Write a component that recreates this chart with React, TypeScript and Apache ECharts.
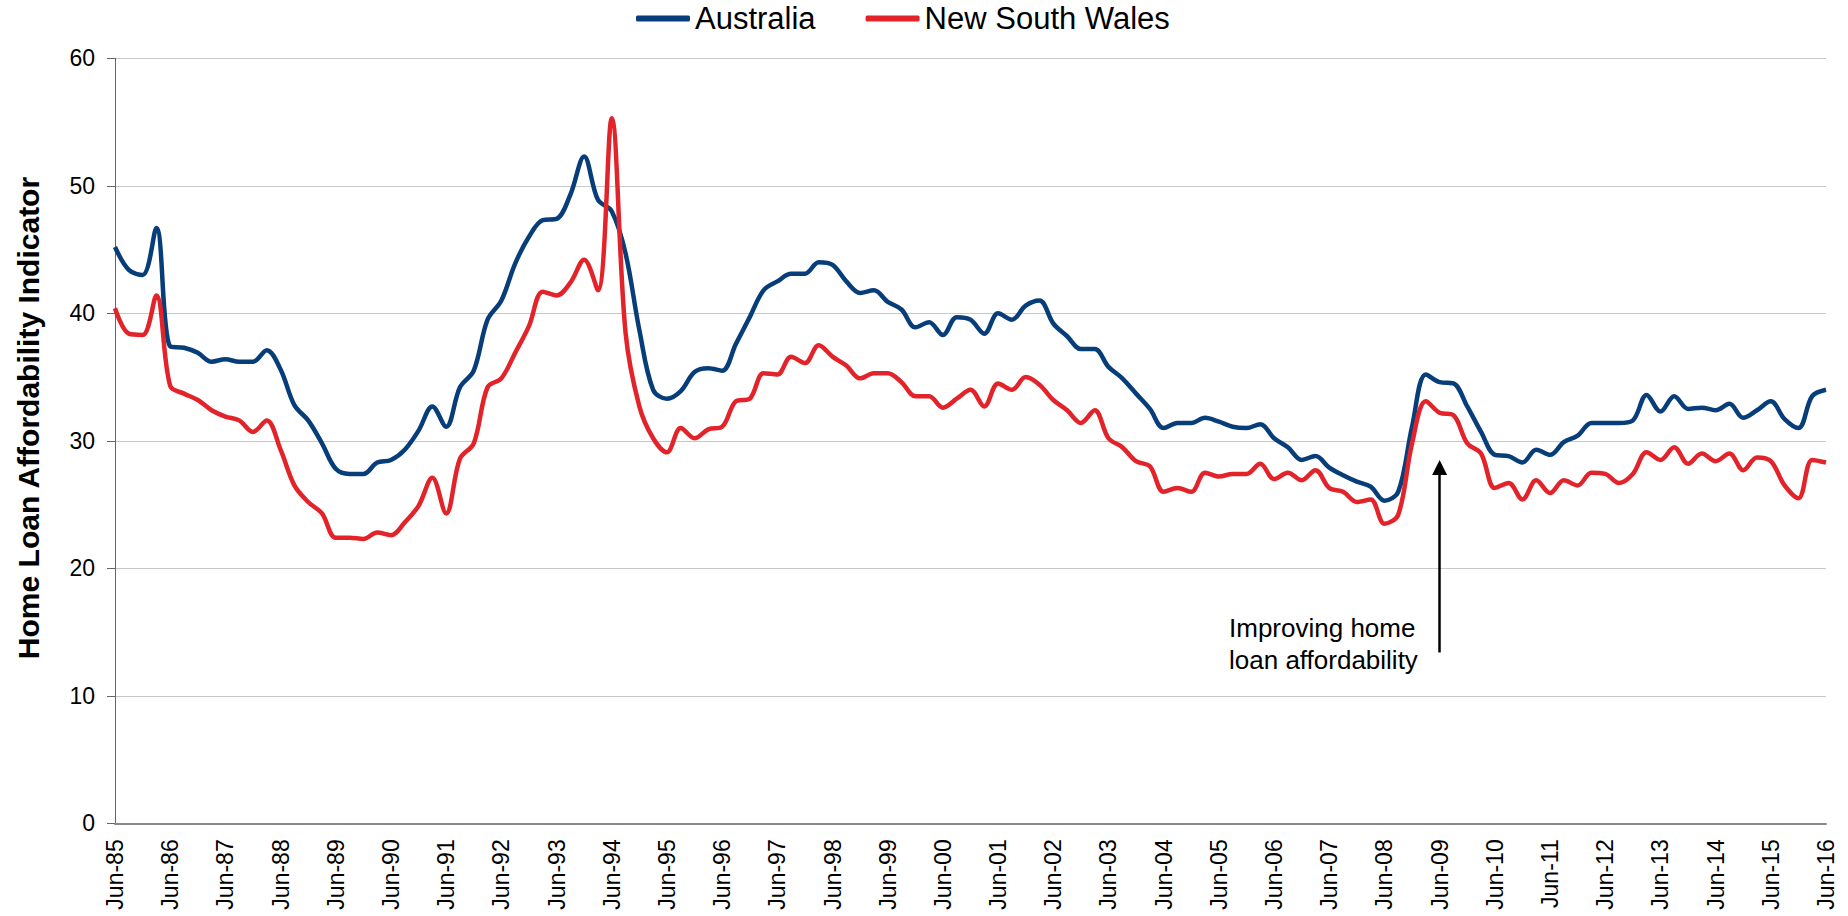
import React, { useEffect, useRef } from "react";
import * as echarts from "echarts";

// Quarterly periods, Jun-85 .. Jun-16
const quarterMonths = ["Jun", "Sep", "Dec", "Mar"];
const startYear = 1985;
const quarterCount = 125;

const australia = [
  45.2, 43.4, 43.0, 46.7, 37.4, 37.3, 36.9, 36.2, 36.4, 36.2, 36.2, 37.1,
  35.6, 32.8, 31.6, 29.8, 27.8, 27.4, 27.4, 28.3, 28.5, 29.3, 30.8, 32.7,
  31.1, 34.2, 35.5, 39.5, 41.0, 43.9, 46.0, 47.3, 47.4, 49.3, 52.3, 48.9,
  48.0, 44.7, 38.7, 34.0, 33.3, 33.9, 35.4, 35.7, 35.5, 37.6, 39.7, 41.8,
  42.5, 43.1, 43.1, 44.0, 43.8, 42.5, 41.6, 41.8, 40.9, 40.3, 38.9, 39.3,
  38.3, 39.7, 39.5, 38.4, 40.0, 39.5, 40.6, 41.0, 39.2, 38.2, 37.2, 37.2,
  35.8, 34.9, 33.7, 32.5, 31.0, 31.4, 31.4, 31.8, 31.5, 31.1, 31.0, 31.3,
  30.2, 29.5, 28.5, 28.8, 27.9, 27.3, 26.8, 26.4, 25.3, 26.0, 31.1, 35.2,
  34.6, 34.5, 32.7, 30.7, 28.9, 28.8, 28.3, 29.3, 28.9, 29.9, 30.4, 31.4,
  31.4, 31.4, 31.6, 33.6, 32.3, 33.5, 32.5, 32.6, 32.4, 32.9, 31.8, 32.4,
  33.1, 31.7, 31.0, 33.5, 34.0,
];

const newSouthWales = [
  40.4, 38.4, 38.3, 41.4, 34.3, 33.7, 33.2, 32.4, 31.9, 31.6, 30.7, 31.6,
  29.3, 26.5, 25.2, 24.3, 22.4, 22.4, 22.3, 22.8, 22.6, 23.6, 24.9, 27.1,
  24.3, 28.6, 29.8, 34.2, 34.9, 36.9, 39.0, 41.7, 41.4, 42.4, 44.2, 41.8,
  55.3, 38.5, 32.7, 30.2, 29.1, 31.0, 30.2, 30.9, 31.1, 33.1, 33.3, 35.3,
  35.2, 36.6, 36.1, 37.5, 36.6, 35.9, 34.9, 35.3, 35.3, 34.6, 33.5, 33.5,
  32.6, 33.3, 34.0, 32.7, 34.5, 34.0, 35.0, 34.4, 33.2, 32.4, 31.4, 32.4,
  30.2, 29.5, 28.4, 28.0, 26.0, 26.3, 26.0, 27.5, 27.2, 27.4, 27.4, 28.2,
  27.0, 27.5, 26.9, 27.7, 26.3, 26.0, 25.2, 25.4, 23.5, 24.2, 29.8, 33.1,
  32.2, 32.0, 29.8, 29.0, 26.3, 26.7, 25.4, 26.9, 25.9, 26.9, 26.5, 27.5,
  27.4, 26.7, 27.4, 29.1, 28.5, 29.5, 28.2, 29.0, 28.4, 29.0, 27.7, 28.7,
  28.4, 26.5, 25.5, 28.5, 28.3,
];

const seriesNames = ["Australia", "New South Wales"];
const yAxisTitle = "Home Loan Affordability Indicator";
const annotationText = "Improving home\nloan affordability";
// arrow: category index of Jun-09, from / to values
const arrowIndex = 96;
const arrowFrom = 13.4;
const arrowTo = 27.9;

const categories: string[] = [];
for (let i = 0; i < quarterCount; i++) {
  const m = quarterMonths[i % 4];
  const y = (startYear + Math.floor((i + 1) / 4)) % 100;
  categories.push(`${m}-${String(y).padStart(2, "0")}`);
}

const FONT = "'Liberation Sans', Arial, Helvetica, sans-serif";
const BLUE = "#073E7A";
const RED = "#E3232A";

export default function App() {
  const ref = useRef<HTMLDivElement>(null);

  useEffect(() => {
    document.body.style.margin = "0";
    if (!ref.current) return;
    const chart = echarts.init(ref.current, null, { renderer: "svg" });
    chart.setOption({
      animation: false,
      backgroundColor: "#ffffff",
      textStyle: { fontFamily: FONT },
      legend: {
        data: seriesNames.map((n) => ({ name: n, icon: "roundRect" })),
        left: 636,
        top: 3,
        padding: 0,
        itemWidth: 54,
        itemHeight: 6,
        itemGap: 50,
        textStyle: { fontSize: 31, color: "#000", fontFamily: FONT },
      },
      grid: { left: 115, right: 22, top: 58.3, bottom: 92.7, containLabel: false },
      xAxis: {
        type: "category",
        data: categories,
        boundaryGap: false,
        axisLine: { lineStyle: { color: "#888888", width: 2 } },
        axisTick: { show: false },
        axisLabel: {
          interval: 3,
          rotate: 90,
          fontSize: 23,
          color: "#000",
          margin: 16,
          fontFamily: FONT,
        },
        splitLine: { show: false },
      },
      yAxis: {
        type: "value",
        min: 0,
        max: 60,
        interval: 10,
        axisLine: { show: true, lineStyle: { color: "#666666", width: 1 } },
        axisTick: { show: true, length: 8, lineStyle: { color: "#666666" } },
        axisLabel: { fontSize: 23, color: "#000", margin: 20, fontFamily: FONT },
        splitLine: { lineStyle: { color: "#C8C8C8", width: 1 } },
      },
      graphic: [
        {
          type: "text",
          x: 28,
          y: 418,
          rotation: Math.PI / 2,
          style: {
            text: yAxisTitle,
            fontSize: 30,
            fontWeight: "bold",
            fontFamily: FONT,
            fill: "#000",
            align: "center",
            verticalAlign: "middle",
          },
        },
        {
          type: "text",
          x: 1229,
          y: 643.5,
          style: {
            text: annotationText,
            fontSize: 26,
            lineHeight: 32,
            fontFamily: FONT,
            fill: "#000",
            align: "left",
            verticalAlign: "middle",
          },
        },
      ],
      series: [
        {
          name: seriesNames[0],
          type: "line",
          data: australia,
          smooth: 0.35,
          symbol: "none",
          lineStyle: { color: BLUE, width: 4.5 },
          itemStyle: { color: BLUE },
        },
        {
          name: seriesNames[1],
          type: "line",
          data: newSouthWales,
          smooth: 0.35,
          symbol: "none",
          lineStyle: { color: RED, width: 4.5 },
          itemStyle: { color: RED },
          markLine: {
            silent: true,
            symbol: ["none", "triangle"],
            symbolSize: [15, 15],
            label: { show: false },
            lineStyle: { color: "#000", width: 2.5, type: "solid" },
            emphasis: { disabled: true },
            data: [
              [
                { coord: [arrowIndex, arrowFrom] },
                { coord: [arrowIndex, arrowTo] },
              ],
            ],
          },
        },
      ],
    });
    return () => chart.dispose();
  }, []);

  return <div ref={ref} style={{ width: 1848, height: 916, overflow: "hidden" }} />;
}
